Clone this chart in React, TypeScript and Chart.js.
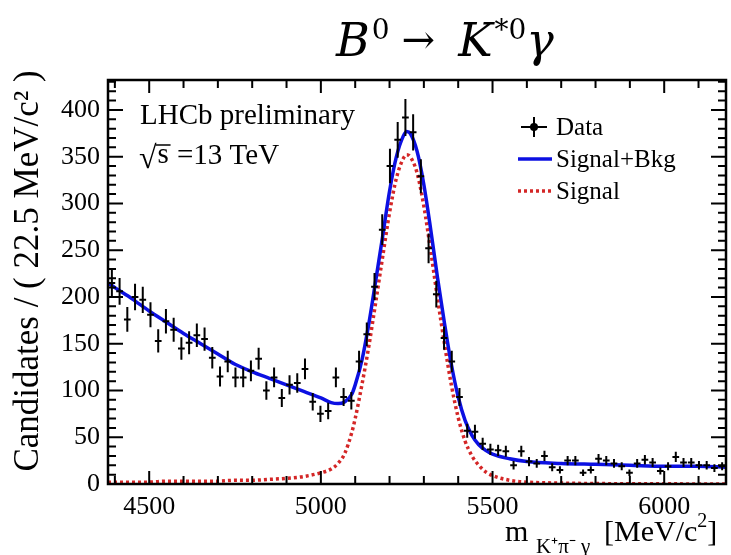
import React, { useEffect, useRef } from "react";
import { Chart, registerables } from "chart.js";

Chart.register(...registerables);

// ---- axis / binning ----
const MASS_MIN = 4380;
const MASS_MAX = 6180;
const BIN_WIDTH = 22.5; // MeV per bin
const Y_MAX = 432;

// ---- data: candidates per 22.5 MeV bin (80 bins, 4380..6180) ----
const dataCounts = [
  215, 206, 176, 200, 197, 181, 153, 174, 165, 145,
  151, 159, 155, 135, 115, 131, 114, 114, 121, 134,
  100, 114, 92, 106, 108, 123, 88, 75, 78, 114,
  93, 89, 131, 160, 211, 272, 340, 368, 392, 376,
  329, 252, 203, 156, 131, 93, 57, 56, 43, 37,
  36, 35, 20, 35, 24, 22, 30, 18, 15, 25,
  25, 12, 15, 27, 25, 22, 19, 12, 22, 26,
  23, 14, 19, 29, 23, 23, 20, 20, 17, 19,
];

// ---- fit curves ----
const fitMass = [
  4380, 4400, 4450, 4500, 4550, 4600, 4650, 4700, 4750, 4800,
  4850, 4900, 4950, 5000, 5030, 5050, 5070, 5090, 5100, 5120,
  5140, 5160, 5180, 5200, 5220, 5240, 5250, 5260, 5280, 5300,
  5320, 5340, 5360, 5380, 5400, 5420, 5440, 5460, 5480, 5500,
  5550, 5600, 5700, 5800, 5900, 6000, 6100, 6180,
];
const fitTotal = [
  215, 210, 198, 185, 173, 161, 150, 139, 128, 120,
  113, 106, 99, 92, 87, 86, 88, 96, 106, 133,
  172, 218, 265, 313, 350, 372, 377, 375, 356, 320,
  272, 220, 172, 128, 93, 68, 52, 42, 36, 32,
  27, 24, 22, 21, 20, 19, 19, 18,
];
const fitSignal = [
  2, 2, 2, 2, 3, 3, 3, 3, 4, 4,
  5, 6, 8, 12, 16, 22, 33, 55, 70, 107,
  148, 195, 243, 290, 327, 348, 352, 350, 333, 297,
  249, 198, 150, 106, 71, 46, 30, 20, 13, 9,
  4, 2, 1, 0.5, 0.3, 0.2, 0.1, 0.1,
];

const xTickLabels = [4500, 5000, 5500, 6000];
const yTickLabels = [0, 50, 100, 150, 200, 250, 300, 350, 400];
const legendLabels = ["Data", "Signal+Bkg", "Signal"];
const yAxisTitle = "Candidates / ( 22.5 MeV/c\u00b2 )";

const SERIF = '"Liberation Serif", "Times New Roman", serif';
const MATH = '"DejaVu Serif", serif';
const BLUE = "#0c10e2";
const RED = "#d42626";

const binCenters = dataCounts.map((_, i) => MASS_MIN + BIN_WIDTH * (i + 0.5));

const decorPlugin = {
  id: "decor",
  afterDatasetsDraw(chart: any) {
    const { ctx, chartArea: ca } = chart;
    const xs = chart.scales.x;
    const ys = chart.scales.y;
    const meta = chart.getDatasetMeta(0);
    ctx.save();
    ctx.beginPath();
    ctx.rect(ca.left, ca.top, ca.right - ca.left, ca.bottom - ca.top);
    ctx.clip();
    ctx.strokeStyle = "#000";
    ctx.lineWidth = 2;
    meta.data.forEach((el: any, i: number) => {
      const v = dataCounts[i];
      const c = binCenters[i];
      const e = Math.sqrt(v);
      const yt = ys.getPixelForValue(v + e);
      const yb = ys.getPixelForValue(v - e);
      const xl = xs.getPixelForValue(c - BIN_WIDTH / 2);
      const xr = xs.getPixelForValue(c + BIN_WIDTH / 2);
      ctx.beginPath();
      ctx.moveTo(el.x, yt);
      ctx.lineTo(el.x, yb);
      ctx.moveTo(xl + 0.5, el.y);
      ctx.lineTo(xr - 0.5, el.y);
      ctx.stroke();
    });
    ctx.restore();
  },
  afterDraw(chart: any) {
    const { ctx, chartArea: ca } = chart;
    const xs = chart.scales.x;
    const ys = chart.scales.y;
    ctx.save();
    // frame
    ctx.strokeStyle = "#000";
    ctx.lineWidth = 2.5;
    ctx.strokeRect(ca.left, ca.top, ca.right - ca.left, ca.bottom - ca.top);
    // ticks (inside, all four sides)
    ctx.lineWidth = 2;
    ctx.beginPath();
    for (let v = 0; v <= Y_MAX; v += 10) {
      const p = ys.getPixelForValue(v);
      const len = v % 50 === 0 ? 15 : 8;
      ctx.moveTo(ca.left, p);
      ctx.lineTo(ca.left + len, p);
      ctx.moveTo(ca.right, p);
      ctx.lineTo(ca.right - len, p);
    }
    for (let v = 4400; v < MASS_MAX; v += 100) {
      const p = xs.getPixelForValue(v);
      const len = v % 500 === 0 ? 13 : 8;
      ctx.moveTo(p, ca.bottom);
      ctx.lineTo(p, ca.bottom - len);
      ctx.moveTo(p, ca.top);
      ctx.lineTo(p, ca.top + len);
    }
    ctx.stroke();

    ctx.fillStyle = "#000";
    ctx.textBaseline = "alphabetic";
    ctx.textAlign = "left";

    // ---- y axis title ----
    ctx.save();
    ctx.translate(29, 271);
    ctx.rotate(-Math.PI / 2);
    ctx.textAlign = "center";
    ctx.textBaseline = "middle";
    ctx.font = `35px ${SERIF}`;
    ctx.fillText(yAxisTitle, 0, 0);
    ctx.restore();

    // ---- title: B^0 -> K^{*0} gamma ----
    let tx = 336;
    const base = 56;
    ctx.font = `italic 46px ${MATH}`;
    ctx.fillText("B", tx, base);
    tx += ctx.measureText("B").width + 2;
    ctx.font = `28px ${MATH}`;
    ctx.fillText("0", tx, base - 17);
    tx += ctx.measureText("0").width + 12;
    ctx.font = `40px ${MATH}`;
    ctx.fillText("\u2192", tx, base - 3);
    tx += ctx.measureText("\u2192").width + 23;
    ctx.font = `italic 46px ${MATH}`;
    ctx.fillText("K", tx, base);
    tx += ctx.measureText("K").width + 2;
    ctx.font = `28px ${MATH}`;
    ctx.fillText("*0", tx, base - 17);
    tx += ctx.measureText("*0").width;
    ctx.font = `italic 46px ${MATH}`;
    ctx.fillText("\u03b3", tx, base);

    // ---- LHCb label ----
    ctx.font = `29px ${SERIF}`;
    ctx.fillText("LHCb preliminary", 140, 124);
    ctx.font = `32px ${SERIF}`;
    ctx.fillText("\u221a", 139, 168);
    const sx = 139 + ctx.measureText("\u221a").width;
    ctx.font = `29px ${SERIF}`;
    ctx.fillText("s", sx + 1, 163);
    ctx.lineWidth = 1.5;
    ctx.beginPath();
    ctx.moveTo(sx - 1, 145);
    ctx.lineTo(sx + 14, 145);
    ctx.stroke();
    ctx.fillText("=13 TeV", 177, 164);

    // ---- x axis title ----
    ctx.font = `30px ${SERIF}`;
    ctx.fillText("m", 505, 541);
    ctx.font = `21px ${SERIF}`;
    ctx.fillText("K\u207a\u03c0\u207b \u03b3", 536, 553);
    ctx.font = `30px ${SERIF}`;
    ctx.fillText("[MeV/c", 604, 541);
    let ex = 604 + ctx.measureText("[MeV/c").width;
    ctx.font = `20px ${SERIF}`;
    ctx.fillText("2", ex, 527);
    ex += ctx.measureText("2").width;
    ctx.font = `30px ${SERIF}`;
    ctx.fillText("]", ex, 541);

    // ---- legend ----
    ctx.font = `25px ${SERIF}`;
    ctx.textBaseline = "middle";
    const ly = [127, 159, 191];
    // data marker
    ctx.lineWidth = 2;
    ctx.beginPath();
    ctx.moveTo(521, ly[0]);
    ctx.lineTo(547, ly[0]);
    ctx.moveTo(534, ly[0] - 10);
    ctx.lineTo(534, ly[0] + 10);
    ctx.stroke();
    ctx.beginPath();
    ctx.arc(534, ly[0], 4, 0, Math.PI * 2);
    ctx.fill();
    // fit line
    const ds1 = chart.data.datasets[1];
    ctx.strokeStyle = ds1.borderColor;
    ctx.lineWidth = ds1.borderWidth;
    ctx.beginPath();
    ctx.moveTo(518, ly[1]);
    ctx.lineTo(552, ly[1]);
    ctx.stroke();
    const ds2 = chart.data.datasets[2];
    ctx.strokeStyle = ds2.borderColor;
    ctx.lineWidth = ds2.borderWidth;
    ctx.setLineDash(ds2.borderDash);
    ctx.beginPath();
    ctx.moveTo(518, ly[2]);
    ctx.lineTo(552, ly[2]);
    ctx.stroke();
    ctx.setLineDash([]);
    ctx.fillStyle = "#000";
    legendLabels.forEach((t, i) => ctx.fillText(t, 556, ly[i] + 1));
    ctx.restore();
  },
};

export default function App() {
  const ref = useRef<HTMLCanvasElement | null>(null);
  useEffect(() => {
    if (!ref.current) return;
    const chart = new Chart(ref.current, {
      type: "scatter",
      data: {
        datasets: [
          {
            label: legendLabels[0],
            type: "scatter",
            data: dataCounts.map((v, i) => ({ x: binCenters[i], y: v })),
            pointRadius: 0,
            showLine: false,
            order: 0,
          },
          {
            label: legendLabels[1],
            type: "line",
            data: fitMass.map((m, i) => ({ x: m, y: fitTotal[i] })),
            borderColor: BLUE,
            borderWidth: 3.5,
            pointRadius: 0,
            fill: false,
            cubicInterpolationMode: "monotone",
            order: 1,
          },
          {
            label: legendLabels[2],
            type: "line",
            data: fitMass.map((m, i) => ({ x: m, y: fitSignal[i] })),
            borderColor: RED,
            borderWidth: 3.5,
            borderDash: [3, 3],
            pointRadius: 0,
            fill: false,
            cubicInterpolationMode: "monotone",
            order: 2,
          },
        ],
      } as any,
      options: {
        responsive: false,
        animation: false,
        events: [],
        layout: { padding: { top: 80, right: 5, left: 0, bottom: 0 } },
        plugins: {
          legend: { display: false },
          tooltip: { enabled: false },
          title: { display: false },
        },
        scales: {
          x: {
            type: "linear",
            min: MASS_MIN,
            max: MASS_MAX,
            grid: { display: false, drawTicks: false },
            border: { display: false },
            afterBuildTicks: (s: any) => {
              s.ticks = xTickLabels.map((v) => ({ value: v }));
            },
            afterFit: (s: any) => {
              s.height = 71;
            },
            ticks: {
              color: "#000",
              font: { family: SERIF, size: 26 },
              padding: 8,
              maxRotation: 0,
              autoSkip: false,
              callback: (v: any) => String(v),
            },
          },
          y: {
            type: "linear",
            min: 0,
            max: Y_MAX,
            grid: { display: false, drawTicks: false },
            border: { display: false },
            afterBuildTicks: (s: any) => {
              s.ticks = yTickLabels.map((v) => ({ value: v }));
            },
            afterFit: (s: any) => {
              s.width = 108;
            },
            ticks: {
              color: "#000",
              font: { family: SERIF, size: 26 },
              padding: 8,
              autoSkip: false,
              callback: (v: any) => String(v),
            },
          },
        },
      } as any,
      plugins: [decorPlugin],
    });
    return () => chart.destroy();
  }, []);
  return (
    <div style={{ position: "fixed", left: 0, top: 0, width: 731, height: 555, background: "#fff" }}>
      <canvas ref={ref} width={731} height={555} style={{ display: "block", width: 731, height: 555 }} />
    </div>
  );
}
